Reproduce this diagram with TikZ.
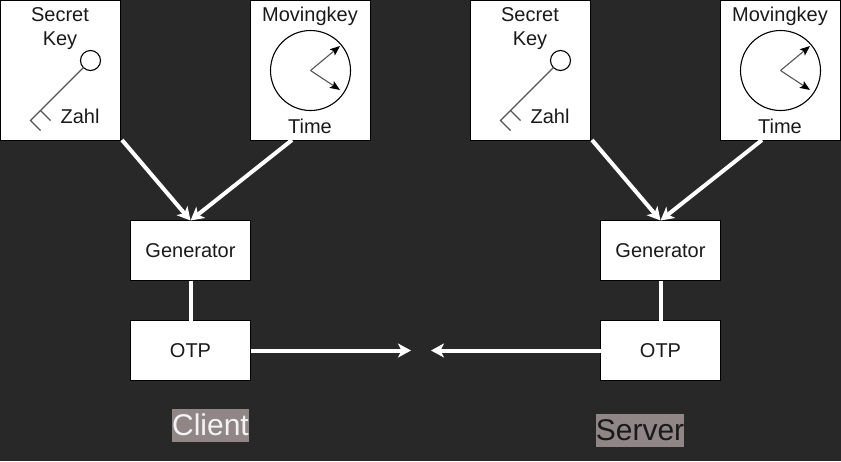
\documentclass[tikz,border=0pt]{standalone}
\usepackage{fontspec}
\setmainfont{Liberation Sans}
\usetikzlibrary{arrows.meta}
\definecolor{bgdark}{HTML}{282828}
\definecolor{labelbg}{HTML}{918686}
\definecolor{inkdark}{HTML}{1A1A1A}
\definecolor{thinline}{HTML}{555555}
\tikzset{
  x=1pt,y=-1pt,
  whitebox/.style={draw=black,line width=1.2pt,outer sep=0pt,fill=white,minimum width=120pt,text=inkdark,font=\fontsize{20}{24}\selectfont,inner sep=0pt,anchor=center},
  shortbox/.style={whitebox,minimum height=60pt},
  tallbox/.style={whitebox,minimum height=140pt},
  txt/.style={text=inkdark,font=\fontsize{20}{24}\selectfont,inner sep=0pt,align=center},
  flow/.style={draw=white,line width=4pt,-{Stealth[length=13pt,width=14pt,inset=3.5pt]}},
  plainflow/.style={draw=white,line width=4pt},
  thin/.style={draw=thinline,line width=1.2pt},
  thinblack/.style={draw=black,line width=1.1pt,fill=white,outer sep=0pt},
  hand/.style={draw=thinline,line width=1.1pt,-{Stealth[length=10pt,width=8pt,inset=2pt,black]}},
  tag/.style={fill=labelbg,inner sep=0pt,font=\fontsize{30}{30}\selectfont,minimum height=33pt}
}
\newcommand{\unitgroup}[2]{%
  \begin{scope}[xshift=#1pt]
    \node[tallbox] (secret#2) at (60.5,70.5) {};
    \node[tallbox] (moving#2) at (310.5,70.5) {};
    \node[shortbox] (gen#2) at (190.5,250.5) {Generator};
    \node[shortbox] (otp#2) at (190.5,350.5) {OTP};
    \node[txt] (secretlabel#2) at (60,28.5) {Secret\\Key};
    \node[txt] (zahl#2) at (80,116) {Zahl};
    \node[txt] (movinglabel#2) at (310,16) {Movingkey};
    \node[txt] (timelabel#2) at (310,126) {Time};
    \node[circle,thinblack,minimum size=20pt,inner sep=0pt] (bow#2) at (90.5,60.5) {};
    \coordinate (tip#2) at (30.5,120.5);
    \coordinate (neck#2) at (40.5,110.5);
    \draw[thin] (bow#2) -- (neck#2) -- (tip#2) -- (40.5,130.5);
    \draw[thin] (40.5,110.5) -- (50.5,120.5);
    \node[circle,thinblack,minimum size=80pt,inner sep=0pt] (clock#2) at (310.5,70.5) {};
    \coordinate (hourtip#2) at (340,46);
    \coordinate (mintip#2) at (340,90);
    \draw[hand] (clock#2.center) -- (hourtip#2);
    \draw[hand] (clock#2.center) -- (mintip#2);
    \coordinate (sfrom#2) at (122,140);
    \coordinate (mfrom#2) at (292,140);
    \draw[flow] (sfrom#2) -- (gen#2.north);
    \draw[flow] (mfrom#2) -- (gen#2.north);
    \draw[plainflow] (gen#2.south) -- (otp#2.north);
  \end{scope}}
\begin{document}
\begin{tikzpicture}
  \useasboundingbox (0,0) rectangle (841,461);
  \fill[bgdark] (0,0) rectangle (841,461);
  \unitgroup{0}{C}
  \unitgroup{470}{S}
  \coordinate (meetL) at (411,350.5);
  \coordinate (meetR) at (431,350.5);
  \draw[flow] (otpC.east) -- (meetL);
  \draw[flow] (otpS.west) -- (meetR);
  \node[tag,text=white!90!labelbg,minimum width=77pt] (client) at (210.5,425) {Client};
  \node[tag,text=inkdark,minimum width=88pt] (server) at (640,430.5) {Server};
\end{tikzpicture}
\end{document}
